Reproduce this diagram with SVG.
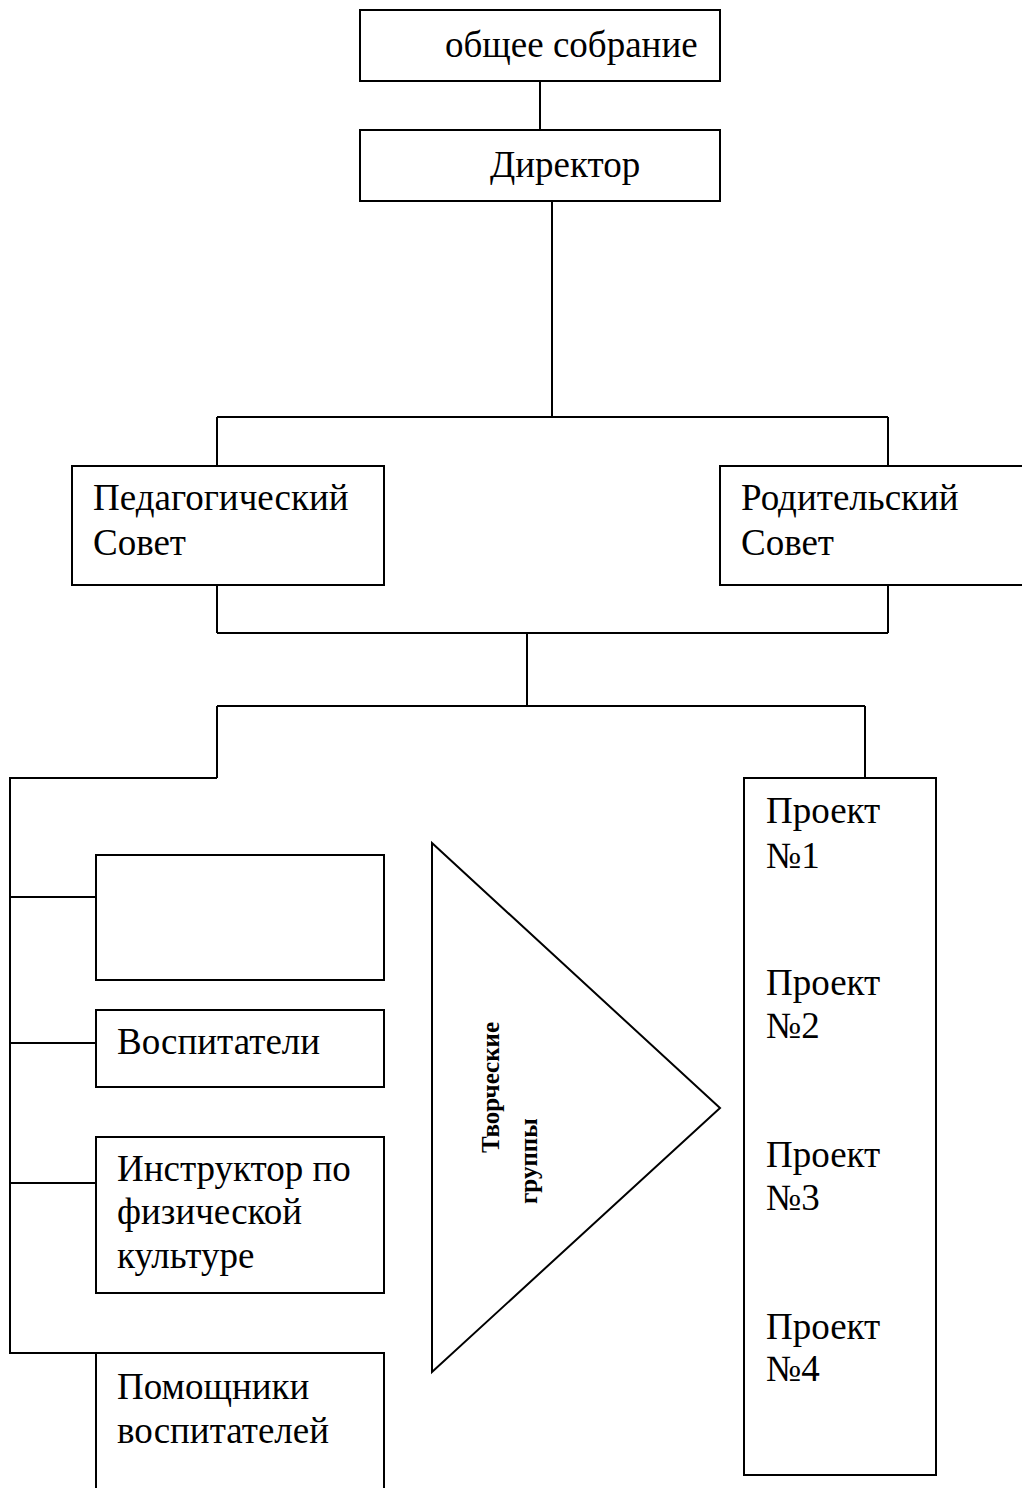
<svg xmlns="http://www.w3.org/2000/svg" width="1022" height="1488" viewBox="0 0 1022 1488">
<style>
.box{fill:#fff;stroke:#000;stroke-width:2}
.ln{fill:none;stroke:#000;stroke-width:2}
.t{font-family:"Liberation Serif","Times New Roman",serif;font-size:37px;fill:#000}
.tb{font-family:"Liberation Serif","Times New Roman",serif;font-size:25px;font-weight:bold;fill:#000}
</style>
<rect width="1022" height="1488" fill="#fff"/>
<g id="connectors" class="ln">
<path d="M540 81V130"/>
<path d="M552 201V417"/>
<path d="M217 417H888M217 417V466M888 417V466"/>
<path d="M217 585V633M888 585V633M217 633H888"/>
<path d="M527 633V706M217 706H865M217 706V778M865 706V778"/>
<path d="M217 778H10V1353H96"/>
<path d="M10 897H96M10 1043H96M10 1183H96"/>
</g>
<g id="n-sobranie"><rect class="box" x="360" y="10" width="360" height="71"/><text class="t" x="445" y="57">общее собрание</text></g>
<g id="n-direktor"><rect class="box" x="360" y="130" width="360" height="71"/><text class="t" x="490" y="177">Директор</text></g>
<g id="n-pedsovet"><rect class="box" x="72" y="466" width="312" height="119"/><text class="t" x="93" y="510">Педагогический</text><text class="t" x="93" y="555">Совет</text></g>
<g id="n-rodsovet"><rect class="box" x="720" y="466" width="310" height="119"/><text class="t" x="741" y="510">Родительский</text><text class="t" x="741" y="555">Совет</text></g>
<g id="n-empty"><rect class="box" x="96" y="855" width="288" height="125"/></g>
<g id="n-vospitateli"><rect class="box" x="96" y="1010" width="288" height="77"/><text class="t" x="117" y="1054">Воспитатели</text></g>
<g id="n-instruktor"><rect class="box" x="96" y="1137" width="288" height="156"/><text class="t" x="117" y="1181">Инструктор по</text><text class="t" x="117" y="1224">физической</text><text class="t" x="117" y="1268">культуре</text></g>
<g id="n-pomoshniki"><path class="ln" d="M96 1490V1353H384V1490"/><text class="t" x="117" y="1399">Помощники</text><text class="t" x="117" y="1443">воспитателей</text></g>
<g id="n-tvorcheskie"><polygon class="box" points="432,843 720,1108 432,1372"/>
<text class="tb" transform="translate(499,1153) rotate(-90)">Творческие</text>
<text class="tb" transform="translate(537,1204) rotate(-90)">группы</text></g>
<g id="n-proekty"><rect class="box" x="744" y="778" width="192" height="697"/>
<text class="t" x="766" y="823">Проект</text><text class="t" x="766" y="868">№1</text>
<text class="t" x="766" y="995">Проект</text><text class="t" x="766" y="1038">№2</text>
<text class="t" x="766" y="1167">Проект</text><text class="t" x="766" y="1210">№3</text>
<text class="t" x="766" y="1339">Проект</text><text class="t" x="766" y="1381">№4</text></g>
</svg>
